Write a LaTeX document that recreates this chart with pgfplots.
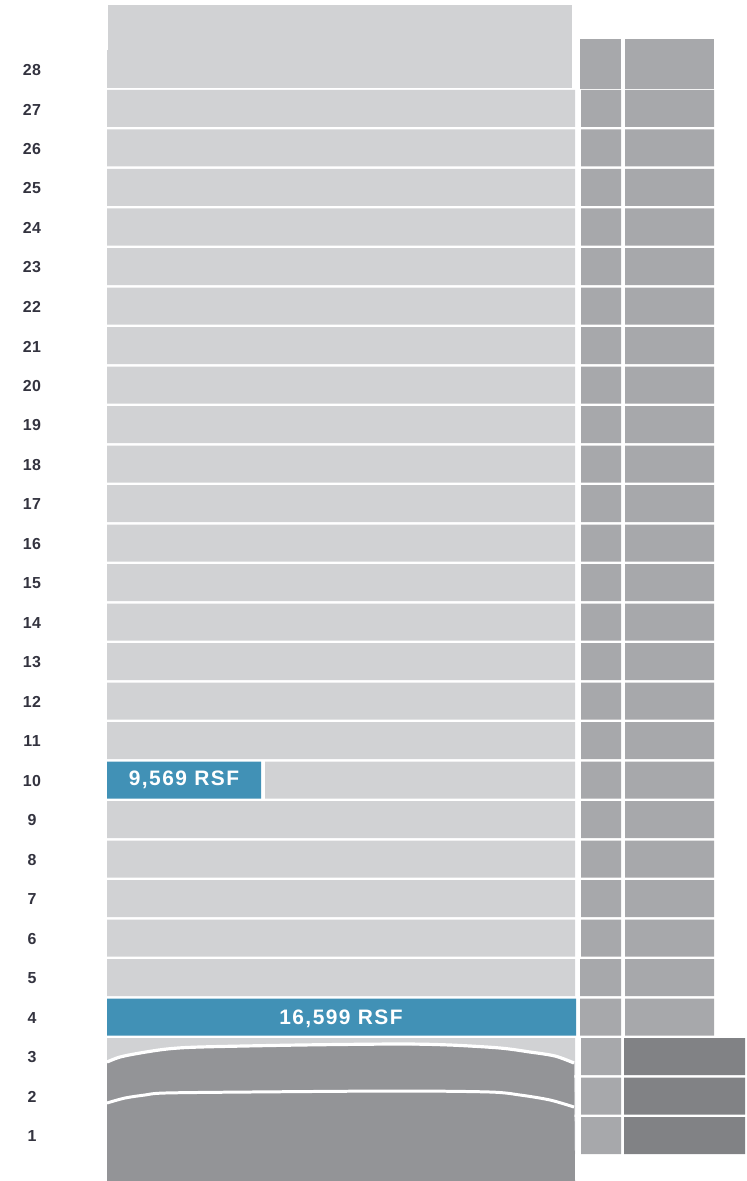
\documentclass[border=0pt]{standalone}
\usepackage{fontspec}
\setmainfont{Liberation Sans}
\usepackage{pgfplots}
\usepackage{pgfplotstable}
\pgfplotsset{compat=1.18}
\definecolor{lightg}{HTML}{D1D2D4}
\definecolor{medg}{HTML}{A7A8AB}
\definecolor{darkg}{HTML}{818285}
\definecolor{baseg}{HTML}{939497}
\definecolor{blu}{HTML}{4191B6}
\definecolor{lab}{HTML}{33333F}

% floors 1-27: row centre (px from top) and stacked segment lengths (px)
\pgfplotstableread{
floor yc     off blue gapb light gap1 narrow gap2 widemed widedark
27   108.5  107  0    0    468   6    40     4    89      0
26   148.0  107  0    0    468   6    40     4    89      0
25   187.5  107  0    0    468   6    40     4    89      0
24   227.0  107  0    0    468   6    40     4    89      0
23   266.5  107  0    0    468   6    40     4    89      0
22   306.0  107  0    0    468   6    40     4    89      0
21   345.5  107  0    0    468   6    40     4    89      0
20   385.0  107  0    0    468   6    40     4    89      0
19   424.5  107  0    0    468   6    40     4    89      0
18   464.0  107  0    0    468   6    40     4    89      0
17   503.5  107  0    0    468   6    40     4    89      0
16   543.0  107  0    0    468   6    40     4    89      0
15   582.5  107  0    0    468   6    40     4    89      0
14   622.0  107  0    0    468   6    40     4    89      0
13   661.5  107  0    0    468   6    40     4    89      0
12   701.0  107  0    0    468   6    40     4    89      0
11   740.5  107  0    0    468   6    40     4    89      0
10   780.0  107  154  4    310   6    40     4    89      0
9    819.5  107  0    0    468   6    40     4    89      0
8    859.0  107  0    0    468   6    40     4    89      0
7    898.5  107  0    0    468   6    40     4    89      0
6    938.0  107  0    0    468   6    40     4    89      0
5    977.5  107  0    0    468   5    41     4    89      0
4    1017.0 107  469  0    0     4    41     4    89      0
3    1056.5 107  0    0    468   6    40     3    0       121
2    1096.0 107  0    0    468   6    40     3    0       121
1    1135.5 107  0    0    468   6    40     3    0       121
}\floors

\begin{document}
\begin{tikzpicture}
\begin{axis}[
  width=747bp, height=1181bp, scale only axis,
  xmin=0, xmax=747, ymin=0, ymax=1181,
  y dir=reverse, hide axis, clip=false,
  xbar stacked, bar width=37,
]
\addplot[draw=none, fill=none] table[x=off, y=yc] {\floors};
\addplot[draw=none, fill=blu] table[x=blue, y=yc] {\floors};
\addplot[draw=none, fill=none] table[x=gapb, y=yc] {\floors};
\addplot[draw=none, fill=lightg] table[x=light, y=yc] {\floors};
\addplot[draw=none, fill=none] table[x=gap1, y=yc] {\floors};
\addplot[draw=none, fill=medg] table[x=narrow, y=yc] {\floors};
\addplot[draw=none, fill=none] table[x=gap2, y=yc] {\floors};
\addplot[draw=none, fill=medg] table[x=widemed, y=yc] {\floors};
\addplot[draw=none, fill=darkg] table[x=widedark, y=yc] {\floors};
\end{axis}
\begin{axis}[
  width=747bp, height=1181bp, scale only axis,
  xmin=0, xmax=747, ymin=0, ymax=1181,
  y dir=reverse, hide axis, clip=false,
]
% floor 28
\addplot[draw=none, fill=lightg] coordinates {(108,5) (572,5) (572,88) (108,88)} --cycle;
\addplot[draw=none, fill=lightg] coordinates {(107,50) (110,50) (110,88) (107,88)} --cycle;
\addplot[draw=none, fill=medg] coordinates {(580,39) (621,39) (621,89) (580,89)} --cycle;
\addplot[draw=none, fill=medg] coordinates {(625,39) (714,39) (714,89) (625,89)} --cycle;
% podium shape
\addplot[draw=none, fill=baseg] coordinates {
 (107,1063) (120,1058) (140,1054) (167,1050) (200,1048) (300,1046) (400,1045)
 (450,1046) (500,1049) (530,1053) (555,1057) (574,1064) (575,1181) (107,1181)} --cycle;
\addplot[white, line width=3.2pt, smooth] coordinates {
 (107,1062) (120,1057) (140,1053) (167,1049) (200,1047) (300,1045) (400,1044)
 (450,1045) (500,1048) (530,1052) (555,1056) (574,1063)};
\addplot[white, line width=3pt, smooth] coordinates {
 (107,1103) (125,1098) (145,1095) (165,1093) (250,1092) (400,1091) (490,1092)
 (520,1095) (550,1100) (574,1107)};
% texts
\node[text=white, font=\fontsize{21}{21}\selectfont\bfseries\addfontfeature{LetterSpace=7}] at (axis cs:184,779.5) {9,569 RSF};
\node[text=white, font=\fontsize{21}{21}\selectfont\bfseries\addfontfeature{LetterSpace=7}] at (axis cs:341,1018.5) {16,599 RSF};
\pgfplotsinvokeforeach{1,...,28}{
  \node[text=lab, font=\fontsize{16}{16}\selectfont\bfseries\addfontfeature{LetterSpace=3}] at (axis cs:32,{70+(28-#1)*39.5}) {#1};
}
\end{axis}
\pgfresetboundingbox
\useasboundingbox (current axis.south west) rectangle (current axis.north east);
\end{tikzpicture}
\end{document}
